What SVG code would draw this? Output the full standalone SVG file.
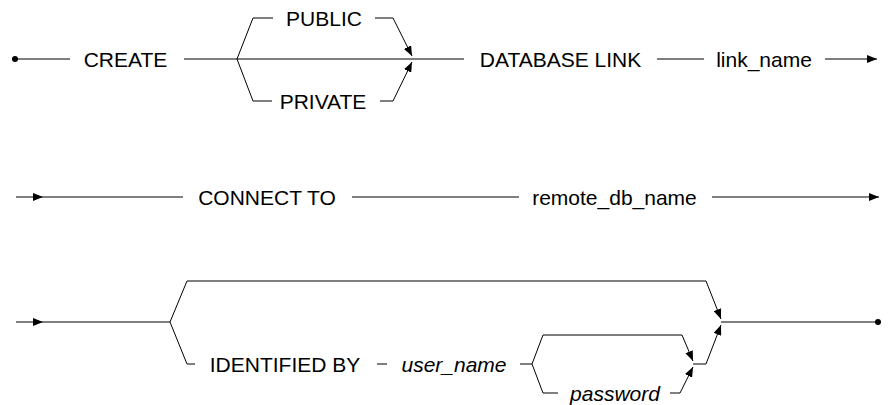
<svg xmlns="http://www.w3.org/2000/svg" width="888" height="405" viewBox="0 0 888 405">
<defs>
<marker id="arr" viewBox="0 0 10 8" refX="10" refY="4" markerWidth="10" markerHeight="8" markerUnits="userSpaceOnUse" orient="auto">
<path d="M0,0 L10,4 L0,8 z" fill="#000"/>
</marker>
<style>
.t{font-family:"Liberation Sans",Arial,sans-serif;font-size:21px;font-weight:normal;fill:#000;text-anchor:middle}
.i{font-style:italic}
.c{fill:none;stroke:#000;stroke-width:1}
.a{marker-end:url(#arr)}
</style>
</defs>
<rect width="888" height="405" fill="#fff"/>
<g id="connectors">
<circle cx="15" cy="59" r="3" fill="#000"/>
<line class="c" x1="15" y1="59" x2="70" y2="59"/>
<line class="c" x1="184" y1="59" x2="464" y2="59"/>
<polyline class="c" points="237,59 253,18 273,18"/>
<polyline class="c a" points="375,18 393,18 412,56"/>
<polyline class="c" points="237,59 253,101 272,101"/>
<polyline class="c a" points="380,101 393,101 412,62"/>
<line class="c" x1="657" y1="59" x2="704" y2="59"/>
<line class="c a" x1="825" y1="59" x2="877" y2="59"/>
<line class="c a" x1="16" y1="197" x2="43" y2="197"/>
<line class="c" x1="43" y1="197" x2="183" y2="197"/>
<line class="c" x1="352" y1="197" x2="519" y2="197"/>
<line class="c a" x1="712" y1="197" x2="879" y2="197"/>
<line class="c a" x1="16" y1="322" x2="43" y2="322"/>
<line class="c" x1="43" y1="322" x2="170" y2="322"/>
<polyline class="c a" points="170,322 187,281 706,281 721,319"/>
<polyline class="c" points="170,322 187,364 195,364"/>
<line class="c" x1="377" y1="364" x2="387" y2="364"/>
<line class="c" x1="520" y1="364" x2="532" y2="364"/>
<polyline class="c a" points="532,364 543,335 682,335 693,361"/>
<polyline class="c" points="532,364 543,393 558,393"/>
<polyline class="c a" points="670,393 680,393 693,367"/>
<polyline class="c a" points="693,364 706,364 721,325"/>
<line class="c" x1="721" y1="322" x2="878" y2="322"/>
<circle cx="878" cy="322" r="3" fill="#000"/>
</g>
<g id="create"><text class="t" x="125.5" y="66.5">CREATE</text></g>
<g id="public"><text class="t" x="324" y="25.5">PUBLIC</text></g>
<g id="private"><text class="t" x="323" y="108.5">PRIVATE</text></g>
<g id="database-link"><text class="t" x="560.5" y="66.5">DATABASE LINK</text></g>
<g id="link-name"><text class="t" x="764" y="66.5">link_name</text></g>
<g id="connect-to"><text class="t" x="267" y="204.5">CONNECT TO</text></g>
<g id="remote-db-name"><text class="t" x="614.5" y="204.5">remote_db_name</text></g>
<g id="identified-by"><text class="t" x="285" y="371.5">IDENTIFIED BY</text></g>
<g id="user-name"><text class="t i" x="454" y="371.5">user_name</text></g>
<g id="password"><text class="t i" x="615" y="400.5">password</text></g>
</svg>
